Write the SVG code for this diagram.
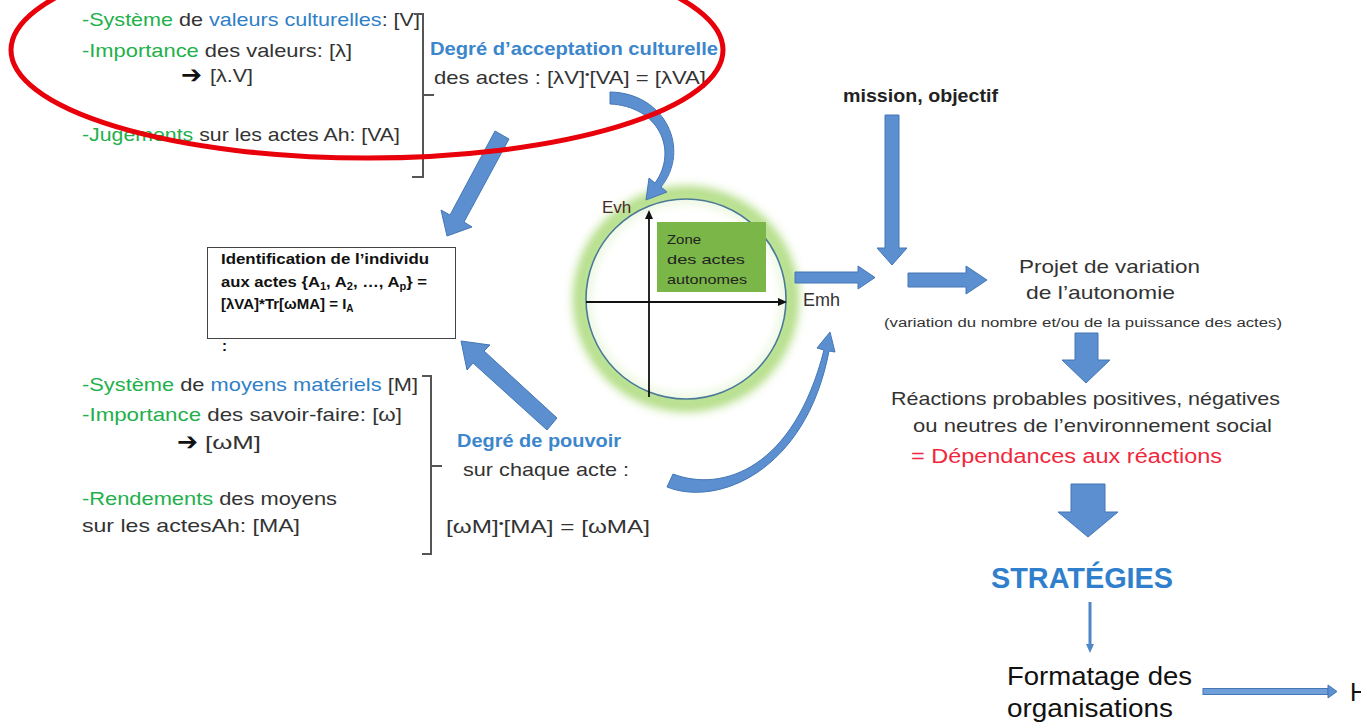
<svg xmlns="http://www.w3.org/2000/svg" width="1361" height="723" viewBox="0 0 1361 723">
<defs>
<style>
.t{font-family:"Liberation Sans",Arial,sans-serif}
.g{fill:#22b04b}
.b{fill:#2f80c8}
.ar{font-family:"DejaVu Sans",sans-serif;font-weight:bold;fill:#111}
.blk{fill:#5b8fd0;stroke:#4577b5;stroke-width:1}
.brace{fill:none;stroke:#555;stroke-width:2}
</style>
<filter id="glow" x="-30%" y="-30%" width="160%" height="160%">
<feGaussianBlur stdDeviation="5"/>
</filter>
</defs>
<rect width="1361" height="723" fill="#fff"/>

<g id="node-valeurs">
<text class="t" style="font-size:19px;fill:#333" x="82" y="26" textLength="338" lengthAdjust="spacingAndGlyphs"><tspan class="g">-Système</tspan>  de <tspan class="b">valeurs culturelles</tspan>: [V]</text>
<text class="t" style="font-size:19px;fill:#333" x="82" y="57" textLength="270" lengthAdjust="spacingAndGlyphs"><tspan class="g">-Importance</tspan>  des valeurs: [λ]</text>
<text class="ar" style="font-size:25px" x="181" y="83" textLength="21" lengthAdjust="spacingAndGlyphs">➔</text>
<text class="t" style="font-size:19px;fill:#333" x="210" y="82" textLength="43" lengthAdjust="spacingAndGlyphs">[λ.V]</text>
<text class="t" style="font-size:19px;fill:#333" x="82" y="141" textLength="318" lengthAdjust="spacingAndGlyphs"><tspan class="g">-Jugements</tspan> sur les actes Ah: [VA]</text>
<path class="brace" d="M414 14 L423 14 L423 177 L412 177 M423 95 L434 95"/>
</g>

<g id="node-acceptation">
<text class="t" style="font-size:19px;font-weight:bold;fill:#3c86cb" x="430" y="55" textLength="288" lengthAdjust="spacingAndGlyphs">Degré d’acceptation  culturelle</text>
<text class="t" style="font-size:19px;fill:#333" x="434" y="84" textLength="272" lengthAdjust="spacingAndGlyphs">des actes : [λV]<tspan style="font-size:11px" dy="-6">•</tspan><tspan dy="6">[VA] = [λVA]</tspan></text>
</g>

<g id="node-identification">
<rect x="207.5" y="247.5" width="248" height="91" fill="#fff" stroke="#444" stroke-width="1"/>
<text class="t" style="font-size:15px;font-weight:bold;fill:#111" x="221" y="264" textLength="208" lengthAdjust="spacingAndGlyphs">Identification de l’individu</text>
<text class="t" style="font-size:15px;font-weight:bold;fill:#111" x="221" y="287" textLength="206" lengthAdjust="spacingAndGlyphs">aux actes {A<tspan style="font-size:10px" dy="3">1</tspan><tspan dy="-3">, A</tspan><tspan style="font-size:10px" dy="3">2</tspan><tspan dy="-3">, …, A</tspan><tspan style="font-size:10px" dy="3">p</tspan><tspan dy="-3">} =</tspan></text>
<text class="t" style="font-size:15px;font-weight:bold;fill:#111" x="221" y="309">[λVA]*Tr[ωMA] = I<tspan style="font-size:10px" dy="3">A</tspan></text>
<text class="t" style="font-size:15px;font-weight:bold;fill:#111" x="222" y="351">:</text>
</g>

<g id="node-moyens">
<text class="t" style="font-size:19px;fill:#333" x="82" y="391" textLength="336" lengthAdjust="spacingAndGlyphs"><tspan class="g">-Système</tspan> de <tspan class="b">moyens matériels</tspan> [M]</text>
<text class="t" style="font-size:19px;fill:#333" x="82" y="421" textLength="320" lengthAdjust="spacingAndGlyphs"><tspan class="g">-Importance</tspan>  des savoir-faire: [ω]</text>
<text class="ar" style="font-size:25px" x="177" y="450" textLength="21" lengthAdjust="spacingAndGlyphs">➔</text>
<text class="t" style="font-size:19px;fill:#333" x="205" y="449" textLength="56" lengthAdjust="spacingAndGlyphs">[ωM]</text>
<text class="t" style="font-size:19px;fill:#333" x="82" y="505" textLength="255" lengthAdjust="spacingAndGlyphs"><tspan class="g">-Rendements</tspan> des moyens</text>
<text class="t" style="font-size:19px;fill:#333" x="82" y="532" textLength="218" lengthAdjust="spacingAndGlyphs">sur les actesAh:   [MA]</text>
<path class="brace" d="M422 376 L431 376 L431 554 L422 554 M431 466 L442 466"/>
</g>

<g id="node-pouvoir">
<text class="t" style="font-size:19px;font-weight:bold;fill:#3c86cb" x="457" y="447" textLength="164" lengthAdjust="spacingAndGlyphs">Degré de pouvoir</text>
<text class="t" style="font-size:19px;fill:#333" x="463" y="476" textLength="166" lengthAdjust="spacingAndGlyphs">sur chaque acte :</text>
<text class="t" style="font-size:19px;fill:#333" x="446" y="533" textLength="204" lengthAdjust="spacingAndGlyphs">[ωM]<tspan style="font-size:11px" dy="-6">•</tspan><tspan dy="6">[MA] = [ωMA]</tspan></text>
</g>

<g id="node-zone">
<circle cx="686" cy="299" r="101" fill="none" stroke="#9fd466" stroke-width="24" opacity="0.8" filter="url(#glow)"/>
<circle cx="686" cy="299" r="100" fill="#fff"/>
<circle cx="686" cy="299" r="99" fill="none" stroke="#d6efbf" stroke-width="6" opacity="0.7" filter="url(#glow)"/>
<circle cx="686" cy="299" r="100" fill="none" stroke="#4b7a96" stroke-width="1.6"/>
<rect x="657" y="222" width="109" height="70" fill="#7ab648"/>
<text class="t" style="font-size:13px;fill:#222" x="667" y="244" textLength="34" lengthAdjust="spacingAndGlyphs">Zone</text>
<text class="t" style="font-size:13px;fill:#222" x="667" y="264" textLength="78" lengthAdjust="spacingAndGlyphs">des actes</text>
<text class="t" style="font-size:13px;fill:#222" x="667" y="284" textLength="80" lengthAdjust="spacingAndGlyphs">autonomes</text>
<path d="M586 302 L780 302 M649 397 L649 218" stroke="#111" stroke-width="1.8" fill="none"/>
<path d="M787 302 L778 298 L778 306 Z M649 210 L645 219 L653 219 Z" fill="#111"/>
<text class="t" style="font-size:17px;fill:#4a2a2a" x="602" y="213">Evh</text>
<text class="t" style="font-size:18px;fill:#333" x="803" y="306">Emh</text>
</g>

<g id="node-mission">
<text class="t" style="font-size:18px;font-weight:bold;fill:#222" x="843" y="102" textLength="155" lengthAdjust="spacingAndGlyphs">mission, objectif</text>
</g>

<g id="node-projet">
<text class="t" style="font-size:19px;fill:#333" x="1019" y="273" textLength="181" lengthAdjust="spacingAndGlyphs">Projet de variation</text>
<text class="t" style="font-size:19px;fill:#333" x="1026" y="299" textLength="149" lengthAdjust="spacingAndGlyphs">de l’autonomie</text>
<text class="t" style="font-size:12px;fill:#333" x="884" y="327" textLength="398" lengthAdjust="spacingAndGlyphs">(variation  du nombre et/ou  de la puissance des actes)</text>
</g>

<g id="node-reactions">
<text class="t" style="font-size:19px;fill:#333" x="891" y="405" textLength="389" lengthAdjust="spacingAndGlyphs">Réactions probables positives, négatives</text>
<text class="t" style="font-size:19px;fill:#333" x="913" y="432" textLength="359" lengthAdjust="spacingAndGlyphs">ou neutres de l’environnement social</text>
<text class="t" style="font-size:20px;fill:#f0283c" x="911" y="463" textLength="311" lengthAdjust="spacingAndGlyphs">= Dépendances aux réactions</text>
</g>

<g id="node-strategies">
<text class="t" style="font-size:29px;font-weight:bold;fill:#2f7fcc" x="991" y="588" textLength="182" lengthAdjust="spacingAndGlyphs">STRATÉGIES</text>
</g>

<g id="node-formatage">
<text class="t" style="font-size:25px;fill:#111" x="1007" y="685" textLength="185" lengthAdjust="spacingAndGlyphs">Formatage des</text>
<text class="t" style="font-size:25px;fill:#111" x="1007" y="717" textLength="166" lengthAdjust="spacingAndGlyphs">organisations</text>
</g>

<g id="node-h">
<text class="t" style="font-size:25px;fill:#111" x="1350" y="701">H</text>
</g>

<g id="connectors">
<polygon class="blk" points="495,131 509,139 464,222 472,227 447,236 441,210 450,215"/>
<path class="blk" d="M610 92 C666 93 691 150 661 187 L667 192 L646 200 L649 178 L655 183 C679 150 658 106 610 104 Z"/>
<polygon class="blk" points="557,418 484,351 490,345 461,341 467,370 473,363 547,430"/>
<path class="blk" d="M667 487 C717 507 806 472 829 351 L835 352 L830 332 L817 348 L824 350 C794 468 723 493 673 474 Z"/>
<polygon class="blk" points="885,115 899,115 899,248 907,248 892,265 877,248 885,248"/>
<polygon class="blk" points="795,272 858,272 858,266 875,277.5 858,289 858,283 795,283"/>
<polygon class="blk" points="908,273 966,273 966,266 987,280 966,294 966,287 908,287"/>
<polygon class="blk" points="1075,333 1098,333 1098,360 1110,360 1086,383 1062,360 1075,360"/>
<polygon class="blk" points="1071,484 1105,484 1105,512 1118,512 1088,537 1058,512 1071,512"/>
<path d="M1090 602 L1090 645" stroke="#4f86c6" stroke-width="3" fill="none"/>
<polygon points="1086,644 1094,644 1090,653" fill="#4f86c6"/>
<rect x="1203" y="688.5" width="125" height="6" fill="#6f9fd8" stroke="#4577b5" stroke-width="1"/>
<polygon points="1328,685 1337,691.5 1328,698" fill="#5b8fd0" stroke="#4577b5" stroke-width="1"/>
</g>

<g id="annotation">
<ellipse cx="367" cy="50" rx="356" ry="108" fill="none" stroke="#e8000b" stroke-width="5"/>
</g>
</svg>
